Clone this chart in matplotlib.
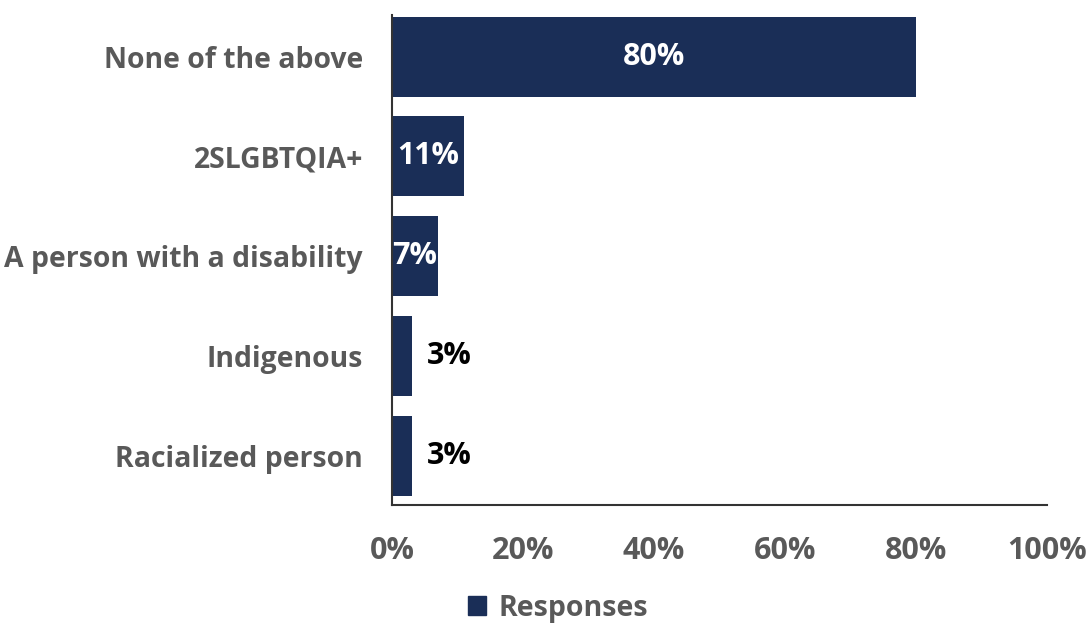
import matplotlib.pyplot as plt
from matplotlib.patches import Patch

categories = ['None of the above', '2SLGBTQIA+', 'A person with a disability',
              'Indigenous', 'Racialized person']
values = [80, 11, 7, 3, 3]
labels = ['80%', '11%', '7%', '3%', '3%']
ticks = [0, 20, 40, 60, 80, 100]
tick_labels = ['0%', '20%', '40%', '60%', '80%', '100%']

bar_color = '#1a2e57'
grey = '#595959'
font = 'Open Sans'

fig = plt.figure(figsize=(10.92, 6.29), dpi=100)
ax = fig.add_axes([0.359, 0.197, 0.5998, 0.779])

y = list(range(len(categories)))
bars = ax.barh(y, values, height=0.8, color=bar_color)

for bar, v, lab in zip(bars, values, labels):
    cy = bar.get_y() + bar.get_height() / 2
    if v >= 5:
        ax.text(v / 2, cy, lab, ha='center', va='center', color='white',
                fontsize=22, fontweight='bold', family=font)
    else:
        ax.text(v + 2.3, cy, lab, ha='left', va='center', color='black',
                fontsize=22, fontweight='bold', family=font)

ax.set_xlim(0, 100)
ax.set_ylim(4.49, -0.415)
ax.set_yticks(y)
ax.set_yticklabels(categories, fontsize=20.4, fontweight='bold', color=grey, family=font)
ax.set_xticks(ticks)
ax.set_xticklabels(tick_labels, fontsize=22, fontweight='bold', color=grey, family=font)
ax.tick_params(axis='y', length=0, pad=21)
ax.tick_params(axis='x', length=0, pad=22)

for s in ['top', 'right']:
    ax.spines[s].set_visible(False)
ax.spines['left'].set_color('#333333')
ax.spines['bottom'].set_color('#333333')
ax.spines['left'].set_linewidth(1.5)
ax.spines['bottom'].set_linewidth(1.5)

fig.legend(handles=[Patch(color=bar_color, label='Responses')],
           loc='center', bbox_to_anchor=(0.511, 0.033), frameon=False,
           handlelength=0.65, handleheight=0.65, handletextpad=0.45,
           prop={'family': font, 'weight': 'bold', 'size': 20.5}, labelcolor=grey)

fig.savefig('out.png', dpi=100)
